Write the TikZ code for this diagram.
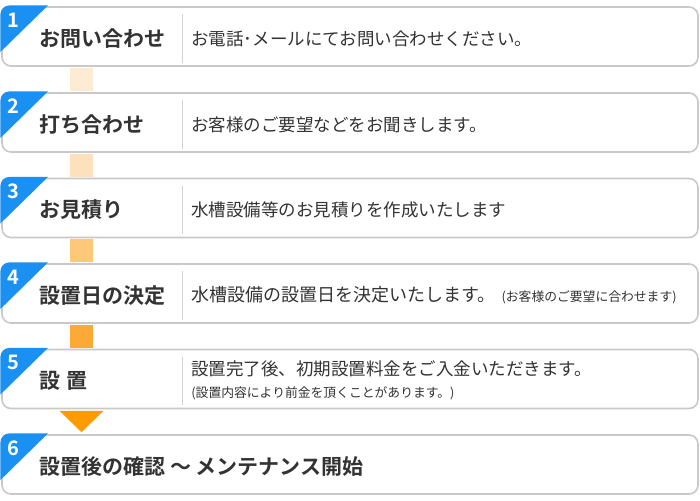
\documentclass[tikz,border=0pt]{standalone}
\usepackage{fontspec}
\usetikzlibrary{calc}
\newfontfamily\jp{Noto Sans CJK JP}[BoldFont={Noto Sans CJK JP Bold}]
\definecolor{boxgray}{HTML}{C9C9C9}
\definecolor{sepgray}{HTML}{D3D3D3}
\definecolor{cblue}{HTML}{1990F2}
\definecolor{txt}{HTML}{333333}
\definecolor{barA}{HTML}{FDEBD4}
\definecolor{barB}{HTML}{FDE1BC}
\definecolor{barC}{HTML}{FDC87A}
\definecolor{barD}{HTML}{FBAA35}
\definecolor{arrowc}{HTML}{FF9A00}
\begin{document}
\begin{tikzpicture}[x=1pt,y=-1pt,
  stepbox/.style={draw=boxgray, line width=1.6pt, rounded corners=9pt, fill=white,
    minimum width=696pt, minimum height=59pt, inner sep=0pt},
  title/.style={font=\jp\bfseries\fontsize{21}{25}\selectfont, text=txt, inner sep=0pt, anchor=west},
  desc/.style={font=\jp\fontsize{17.5}{20}\selectfont, text=txt, inner sep=0pt, anchor=west},
  small/.style={font=\jp\fontsize{12.8}{15}\selectfont, text=txt, inner sep=0pt, anchor=west},
  num/.style={font=\jp\bfseries\fontsize{20}{22}\selectfont, text=white, inner sep=0pt},
  sepline/.style={draw=sepgray, line width=1pt},
  barline/.style={line width=23pt, shorten <=0.8pt, shorten >=0.8pt}
]
\useasboundingbox (0,0) rectangle (700,500);
\fill[white] (0,0) rectangle (700,500);

% boxes
\foreach \i/\cy in {1/36.5, 2/122.5, 3/208, 4/293.5, 5/379, 6/464.5}{
  \node[stepbox] (b\i) at (350,\cy) {};
  \begin{scope}
    \clip[rounded corners=9pt] ($(b\i.north west)+(-0.8,-0.8)$) rectangle ($(b\i.south east)+(0.8,0.8)$);
    \fill[cblue] ($(b\i.north west)+(-1,-1)$) -- ++(48,0) -- ++(-48,47) -- cycle;
  \end{scope}
  \node[num] (n\i) at ($(b\i.north west)+(12.5,14)$) {\i};
}
\foreach \i in {1,...,5}{
  \draw[sepline] ($(b\i.north west)+(181,8)$) -- ($(b\i.south west)+(181,-4)$);
}

% titles
\node[title] (t1) at ($(b1.west)+(38,2)$) {お問い合わせ};
\node[title] (t2) at ($(b2.west)+(38,2)$) {打ち合わせ};
\node[title] (t3) at ($(b3.west)+(38,2)$) {お見積り};
\node[title] (t4) at ($(b4.west)+(38,2)$) {設置日の決定};
\node[title] (t5) at ($(b5.west)+(38,2)$) {設\hspace{0.3em}置};
\node[title] (t6) at ($(b6.west)+(38,2)$) {設置後の確認 ～ メンテナンス開始};

% descriptions
\node[desc] (d1) at ($(b1.west)+(190,2)$) {お電話･メールにてお問い合わせください。};
\node[desc] (d2) at ($(b2.west)+(190,2)$) {お客様のご要望などをお聞きします。};
\node[desc] (d3) at ($(b3.west)+(190,2)$) {水槽設備等のお見積りを作成いたします};
\node[desc] (d4) at ($(b4.west)+(190,2)$) {\fontsize{18}{20}\selectfont 水槽設備の設置日を決定いたします。\hspace{6pt}{\fontsize{12.8}{15}\selectfont(お客様のご要望に合わせます)}};
\node[desc] (d5) at ($(b5.west)+(190,-10)$) {設置完了後、初期設置料金をご入金いただきます。};
\node[small] (d5b) at ($(b5.west)+(190,14)$) {(設置内容により前金を頂くことがあります。)};

% connectors
\coordinate (bx) at (81.5,0);
\draw[barline, barA] (b1.south -| bx) -- (b2.north -| bx);
\draw[barline, barB] (b2.south -| bx) -- (b3.north -| bx);
\draw[barline, barC] (b3.south -| bx) -- (b4.north -| bx);
\draw[barline, barD] (b4.south -| bx) -- (b5.north -| bx);
\fill[arrowc] ($(b5.south -| bx)+(-22,1.5)$) -- ($(b5.south -| bx)+(22,1.5)$) -- ($(b6.north -| bx)+(0,-2)$) -- cycle;
\end{tikzpicture}
\end{document}
